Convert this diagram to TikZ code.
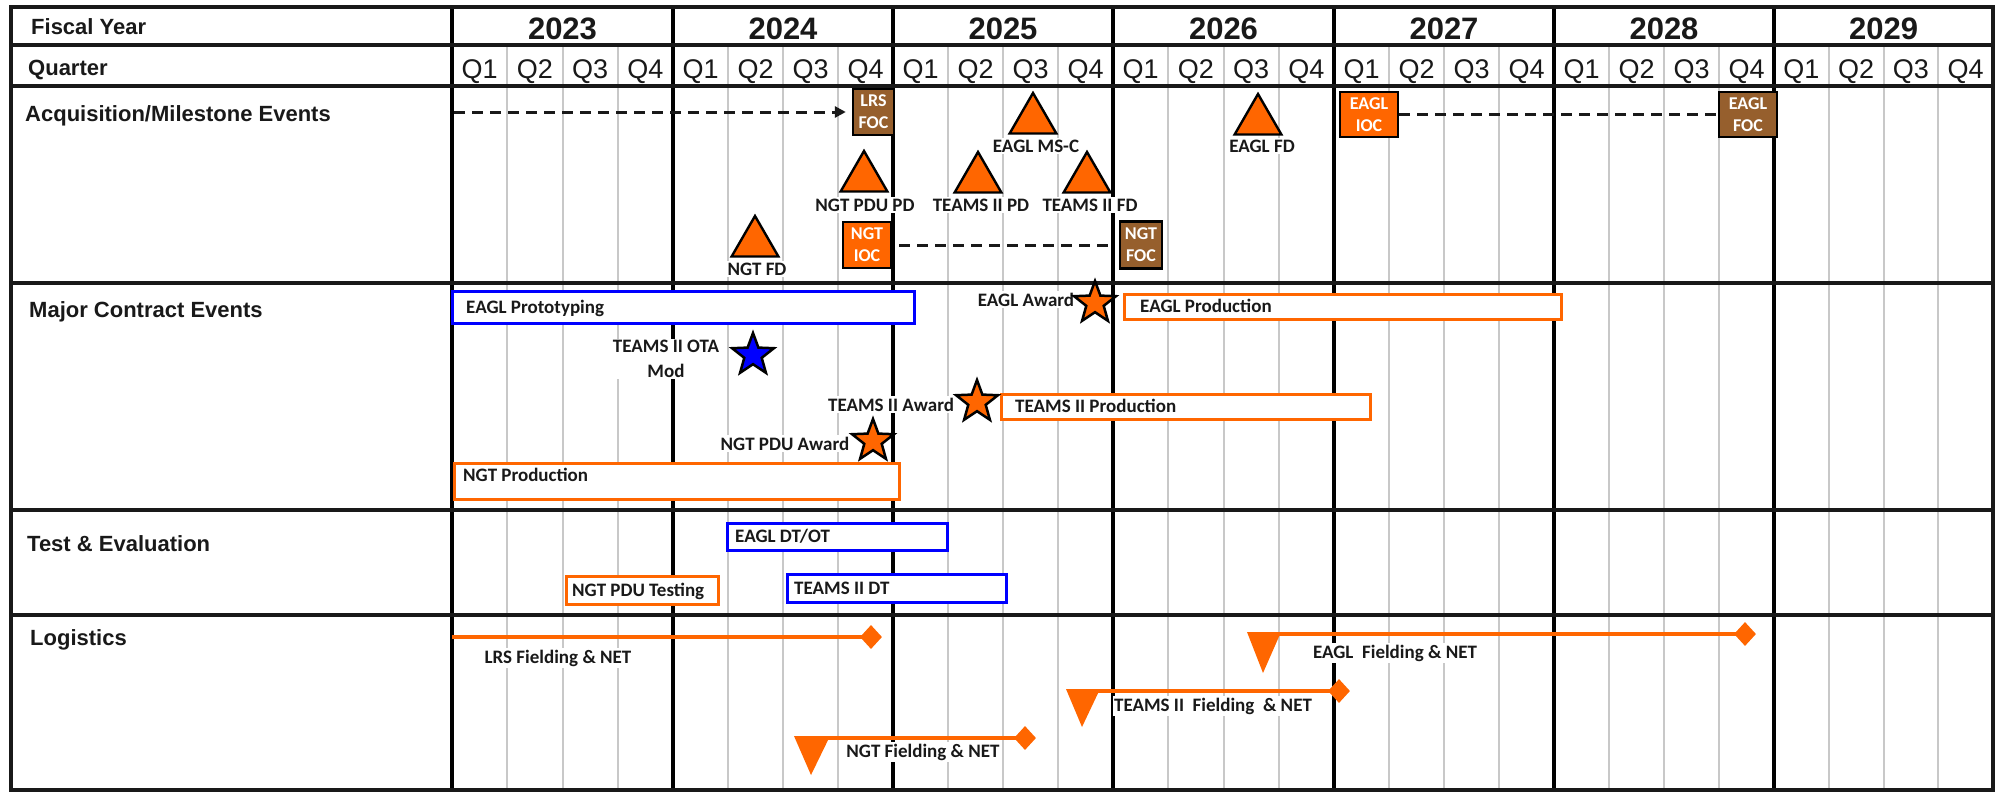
\documentclass[tikz,border=0pt]{standalone}
\usepackage{fontspec}
\setmainfont{Liberation Sans}
\newfontfamily\calfont{Carlito}
\usetikzlibrary{shapes.geometric,arrows.meta}
\definecolor{ora}{RGB}{255,102,0}
\definecolor{brn}{RGB}{150,95,45}
\definecolor{blu}{RGB}{0,0,255}
\definecolor{gridgray}{RGB}{200,200,200}
\definecolor{ink}{RGB}{25,25,25}
\tikzset{
  hdr/.style={font=\fontsize{22}{26}\selectfont\bfseries, anchor=base west, inner sep=0pt, text=ink},
  yrlbl/.style={font=\fontsize{31}{36}\selectfont\bfseries, anchor=base, inner sep=0pt, text=ink},
  qtrlbl/.style={font=\fontsize{27}{30}\selectfont, anchor=base, inner sep=0pt, text=ink},
  lbl/.style={font=\calfont\bfseries\fontsize{19}{25}\selectfont, fill=white, inner sep=1.5pt, text=ink, anchor=base},
  lblc/.style={font=\calfont\bfseries\fontsize{19}{25}\selectfont, fill=white, inner sep=1.5pt, text=ink, align=center},
  bartxt/.style={font=\calfont\bfseries\fontsize{19}{23}\selectfont, inner sep=0pt, text=ink, anchor=base west},
  msbox/.style={draw=black, line width=2.4pt, font=\calfont\bfseries\fontsize{18}{22}\selectfont, text=white, align=center, inner sep=0pt},
  tri/.style={regular polygon, regular polygon sides=3, minimum size=54pt, inner sep=0pt, fill=ora, draw=black, line width=2.4pt},
  star5/.style={star, star points=5, star point ratio=2.4, minimum size=44pt, inner sep=0pt, draw=black, line width=2.5pt},
  barbox/.style={draw=#1, line width=2.8pt, fill=white, anchor=north west, inner sep=0pt},
  dia/.style={diamond, fill=ora, minimum width=22pt, minimum height=24pt, inner sep=0pt},
  fld/.style={draw=ora, line width=4pt},
  dashconn/.style={draw=ink, line width=3pt, dash pattern=on 11pt off 7pt},
  gridline/.style={draw=gridgray, line width=2pt},
  yearline/.style={draw=black, line width=3.2pt},
  rowline/.style={draw=black!90, line width=3.4pt},
}
\begin{document}
\begin{tikzpicture}[x=1pt,y=-1pt]
\useasboundingbox[fill=white] (0,0) rectangle (2007,793);
% ---------- grid ----------
\foreach \a/\b/\yr in {452/673/2023,673/893/2024,893/1113/2025,1113/1334/2026,1334/1554/2027,1554/1774/2028,1774/1993/2029}{
  \foreach \i in {1,2,3}{\draw[gridline] ({\a+(\b-\a)*\i/4},45) -- ({\a+(\b-\a)*\i/4},790);}
  \node[yrlbl] (y\yr) at ({(\a+\b)/2},39) {\yr};
  \foreach \i in {1,2,3,4}{\node[qtrlbl] (q\yr\i) at ({\a+(\b-\a)*(\i-0.5)/4},78) {Q\i};}
}
\foreach \x in {452,673,893,1113,1334,1554,1774}{\draw[yearline] (\x,7) -- (\x,790);}
\foreach \y in {45,86,283,510,615}{\draw[rowline] (11,\y) -- (1993,\y);}
\draw[rowline] (11,7) rectangle (1993,790);
% ---------- row headers ----------
\node[hdr] (hfy) at (31,34) {Fiscal Year};
\node[hdr] (hq) at (28,75) {Quarter};
\node[hdr] (hacq) at (25,121) {Acquisition/Milestone Events};
\node[hdr] (hmaj) at (29,317) {Major Contract Events};
\node[hdr] (hte) at (27,551) {Test \& Evaluation};
\node[hdr] (hlog) at (30,645) {Logistics};
% ---------- acquisition / milestone ----------
\node[msbox, fill=brn, minimum width=41pt, minimum height=46pt] (lrsfoc) at (873.5,112) {LRS\\FOC};
\node[msbox, fill=ora, minimum width=58pt, minimum height=45pt] (eaglioc) at (1369,114.5) {EAGL\\IOC};
\node[msbox, fill=brn, minimum width=58pt, minimum height=45pt] (eaglfoc) at (1748,114.5) {EAGL\\FOC};
\node[msbox, fill=ora, minimum width=48pt, minimum height=46pt] (ngtioc) at (867,245) {NGT\\IOC};
\node[msbox, fill=brn, minimum width=42pt, minimum height=47pt] (ngtfoc) at (1141,245) {NGT\\FOC};
\coordinate (acqstart) at (454,112);
\draw[dashconn, -{Triangle[length=11pt,width=11pt]}, shorten >=6pt] (acqstart) -- (lrsfoc.west);
\draw[dashconn] (eaglioc.east) -- (eaglfoc.west);
\draw[dashconn, shorten <=7pt, shorten >=6pt] (ngtioc.east) -- (ngtfoc.west);
\node[tri] (msc) at (1033,120) {};
\node[tri] (eaglfd) at (1258,121) {};
\node[tri] (ngtpdupd) at (864,178) {};
\node[tri] (teamspd) at (978,179) {};
\node[tri] (teamsfd) at (1087,179) {};
\node[tri] (ngtfd) at (755,243) {};
\node[lbl] (lmsc) at (1036,152) {EAGL MS-C};
\node[lbl] (leaglfd) at (1262,152) {EAGL FD};
\node[lbl] (lngtpdupd) at (865,211) {NGT PDU PD};
\node[lbl] (lteamspd) at (981,211) {TEAMS II PD};
\node[lbl] (lteamsfd) at (1090,211) {TEAMS II FD};
\node[lbl] (lngtfd) at (757,275) {NGT FD};
% ---------- major contract events ----------
\node[barbox=blu, minimum width=462pt, minimum height=32pt] (eaglproto) at (451,290) {};
\node[bartxt] (teaglproto) at ([xshift=15pt,yshift=-6pt]eaglproto.west) {EAGL Prototyping};
\node[barbox=ora, minimum width=437pt, minimum height=25pt] (eaglprod) at (1123,293) {};
\node[bartxt] (teaglprod) at ([xshift=17pt,yshift=-6pt]eaglprod.west) {EAGL Production};
\node[barbox=ora, minimum width=369pt, minimum height=25pt] (teamsprod) at (1000,393) {};
\node[bartxt] (tteamsprod) at ([xshift=15pt,yshift=-6pt]teamsprod.west) {TEAMS II Production};
\node[barbox=ora, minimum width=445pt, minimum height=36pt] (ngtprod) at (453,462) {};
\node[bartxt] (tngtprod) at ([xshift=10pt,yshift=0pt]ngtprod.west) {NGT Production};
\node[lblc] (lota) at (666,359) {TEAMS II OTA\\Mod};
\node[lbl] (leaglaward) at (1026,306) {EAGL Award};
\node[lbl] (lteamsaward) at (891,411) {TEAMS II Award};
\node[lbl] (lngtaward) at (785,450) {NGT PDU Award};
\node[star5, fill=blu] (otastar) at (753,355) {};
\node[star5, fill=ora] (eaglaward) at (1095,303) {};
\node[star5, fill=ora] (teamsaward) at (977,402) {};
\node[star5, fill=ora] (ngtaward) at (873,441) {};
% ---------- test & evaluation ----------
\node[barbox=blu, minimum width=220pt, minimum height=27pt] (eagldtot) at (726,522) {};
\node[bartxt] (teagldtot) at ([xshift=9pt,yshift=-6pt]eagldtot.west) {EAGL DT/OT};
\node[barbox=ora, minimum width=152pt, minimum height=28pt] (ngtpdutest) at (565,575) {};
\node[bartxt] (tngtpdutest) at ([xshift=7pt,yshift=-6pt]ngtpdutest.west) {NGT PDU Testing};
\node[barbox=blu, minimum width=219pt, minimum height=28pt] (teamsdt) at (786,573) {};
\node[bartxt] (tteamsdt) at ([xshift=8pt,yshift=-6pt]teamsdt.west) {TEAMS II DT};
% ---------- logistics ----------
\coordinate (lrsfs) at (452,637);
\node[dia] (lrsfe) at (871,637) {};
\draw[fld] (lrsfs) -- (lrsfe.center);
\fill[ora] (1247,632) -- (1281,632) -- (1263,673) -- cycle;
\coordinate (eaglfs) at (1264,634);
\node[dia] (eaglfe) at (1745,634) {};
\draw[fld] (eaglfs) -- (eaglfe.center);
\fill[ora] (1066,689) -- (1100,689) -- (1082,727) -- cycle;
\coordinate (teamsfs) at (1083,691);
\node[dia] (teamsfe) at (1339,691) {};
\draw[fld] (teamsfs) -- (teamsfe.center);
\fill[ora] (794,736) -- (830,736) -- (811,775) -- cycle;
\coordinate (ngtfs) at (812,738);
\node[dia] (ngtfe) at (1025,738) {};
\draw[fld] (ngtfs) -- (ngtfe.center);
\node[lbl] (llrsf) at (558,663) {LRS Fielding \& NET};
\node[lbl] (leaglf) at (1395,658) {EAGL\ \ Fielding \& NET};
\node[lbl] (lteamsf) at (1213,711) {TEAMS II\ \ Fielding\ \ \& NET};
\node[lbl] (lngtf) at (923,757) {NGT Fielding \& NET};
\end{tikzpicture}
\end{document}
